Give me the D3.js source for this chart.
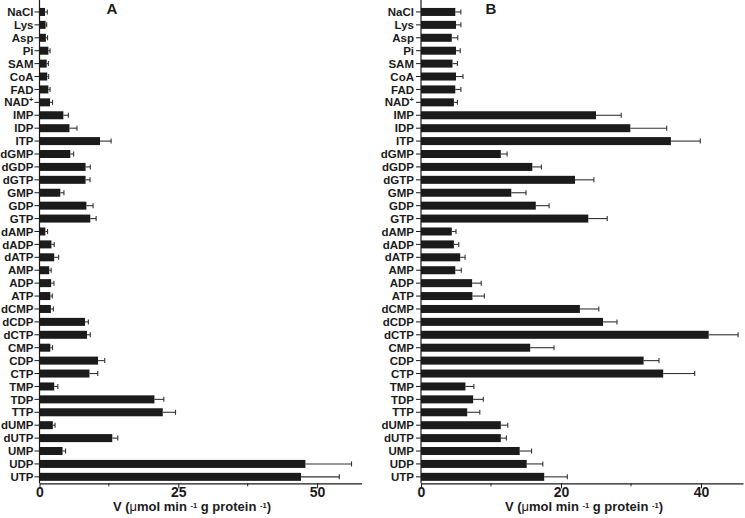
<!DOCTYPE html>
<html><head><meta charset="utf-8">
<script src="https://cdn.jsdelivr.net/npm/d3@7"></script>
<style>
body{margin:0;background:#fff;}
svg{display:block;font-family:"Liberation Sans",Arial,sans-serif;}
</style></head>
<body><svg id="c" width="745" height="518"></svg>
<script>
const categories = ["NaCl","Lys","Asp","Pi","SAM","CoA","FAD","NAD+","IMP","IDP","ITP","dGMP","dGDP","dGTP","GMP","GDP","GTP","dAMP","dADP","dATP","AMP","ADP","ATP","dCMP","dCDP","dCTP","CMP","CDP","CTP","TMP","TDP","TTP","dUMP","dUTP","UMP","UDP","UTP"];
const meanA = [1.0,1.1,1.15,1.6,1.3,1.4,1.6,1.9,4.3,5.4,10.9,5.55,8.3,8.3,3.75,8.45,9.15,1.05,2.15,2.65,1.75,2.1,1.95,2.05,8.2,8.55,1.95,10.55,9.0,2.65,20.7,22.2,2.4,13.1,4.15,47.9,47.1];
const errA  = [0.4,0.2,0.3,0.3,0.3,0.25,0.3,0.45,0.9,1.35,2.0,0.6,0.85,0.8,0.65,1.2,1.05,0.4,0.5,0.8,0.35,0.5,0.35,0.45,0.6,0.6,0.4,1.2,1.5,0.65,1.7,2.3,0.4,1.0,0.55,8.3,6.9];
const meanB = [4.9,5.0,4.4,5.0,4.5,5.0,4.9,4.7,25.0,29.9,35.7,11.4,15.9,22.0,12.9,16.4,23.9,4.4,4.7,5.6,4.9,7.3,7.35,22.7,26.0,41.1,15.6,31.8,34.6,6.35,7.45,6.6,11.4,11.4,14.1,15.1,17.6];
const errB  = [0.8,0.7,0.85,0.6,0.7,1.0,0.8,0.5,3.6,5.2,4.2,0.9,1.3,2.7,2.1,1.9,2.7,0.6,0.7,0.7,0.85,1.3,1.7,2.7,2.0,4.2,3.4,2.2,4.5,1.2,1.45,1.8,1.0,0.8,1.7,2.3,3.3];
const ticksA = [0,25,50], minorA = [12.5,37.5];
const ticksB = [0,20,40], minorB = [10,30];
const panelLabels = ["A","B"];

const svg = d3.select("#c");
const ink = "#1b1b1b";

const y = d3.scaleBand().domain(categories).range([5.5,483.3]).paddingInner(0.38).paddingOuter(0.19);
const axisY = 483.3;

function panel(cfg){
  const x = d3.scaleLinear().domain(cfg.domain).range(cfg.range);
  const g = svg.append("g");
  const x0 = x(0);
  g.selectAll("rect.bar").data(categories).join("rect")
    .attr("x", x0).attr("y", d=>y(d))
    .attr("width", (d,i)=>x(cfg.mean[i])-x0)
    .attr("height", y.bandwidth()).attr("fill", ink);
  const eg = g.append("g").attr("stroke","#333").attr("stroke-width",1.1);
  categories.forEach((c,i)=>{
    const cy = y(c)+y.bandwidth()/2;
    const xe = x(cfg.mean[i]+cfg.err[i]);
    eg.append("line").attr("x1", x(cfg.mean[i])).attr("x2", xe).attr("y1", cy).attr("y2", cy);
    eg.append("line").attr("x1", xe).attr("x2", xe).attr("y1", cy-2.5).attr("y2", cy+2.5);
  });
  const ts = 5;
  const ya = g.append("g").attr("transform",`translate(${x0},0)`)
    .call(d3.axisLeft(y).tickSize(ts).tickFormat(""));
  ya.select(".domain").remove();
  ya.selectAll(".tick line").attr("stroke", ink).attr("stroke-width",1);
  ya.selectAll(".tick").append("text")
    .attr("x", -ts-cfg.pad).attr("dy","0.36em").attr("text-anchor","end")
    .attr("fill", ink).attr("font-size","11.5px").attr("font-weight","bold")
    .each(function(d){
      const t = d3.select(this);
      if (d.endsWith("+")) {
        t.text(d.slice(0,-1));
        t.append("tspan").text("+").attr("font-size","7.5px").attr("dy","-4");
      } else t.text(d);
    });
  g.append("line").attr("x1",x0).attr("x2",x0).attr("y1",0).attr("y2",axisY)
    .attr("stroke",ink).attr("stroke-width",1.2);
  const xa = g.append("g").attr("transform",`translate(0,${axisY})`)
    .call(d3.axisBottom(x).tickValues(cfg.ticks).tickSize(5).tickPadding(-1).tickSizeOuter(0));
  xa.select(".domain").attr("stroke",ink).attr("stroke-width",1.2);
  xa.selectAll(".tick line").attr("stroke",ink);
  xa.selectAll(".tick text").attr("fill",ink).attr("font-size","14px").attr("font-weight","bold")
    .attr("font-family",'"Liberation Sans",Arial,sans-serif');
  g.append("g").attr("transform",`translate(0,${axisY})`)
    .selectAll("line").data(cfg.minor).join("line")
    .attr("x1",d=>x(d)).attr("x2",d=>x(d)).attr("y1",0).attr("y2",3).attr("stroke",ink);
  const t = g.append("text").attr("x", cfg.titleX).attr("y", 511)
    .attr("text-anchor","middle").attr("fill",ink).attr("font-size","13px").attr("font-weight","bold");
  t.append("tspan").text("V (");
  t.append("tspan").text("μ").attr("font-weight","normal");
  t.append("tspan").text("mol min ");
  t.append("tspan").text("-1").attr("font-size","7.5px").attr("dy","-3");
  t.append("tspan").text(" g protein ").attr("dy","3");
  t.append("tspan").text("-1").attr("font-size","7.5px").attr("dy","-3");
  t.append("tspan").text(")").attr("dy","3");
  g.append("text").attr("x", cfg.labelX).attr("y", 13.5).attr("text-anchor","middle")
    .attr("fill",ink).attr("font-size","15px").attr("font-weight","bold").text(cfg.label);
}

panel({domain:[0,58], range:[39.5,361.5], mean:meanA, err:errA, ticks:ticksA, minor:minorA, pad:1, titleX:192, labelX:112, label:panelLabels[0]});
panel({domain:[0,46], range:[421,743], mean:meanB, err:errB, ticks:ticksB, minor:minorB, pad:2, titleX:584, labelX:491, label:panelLabels[1]});
</script></body></html>
